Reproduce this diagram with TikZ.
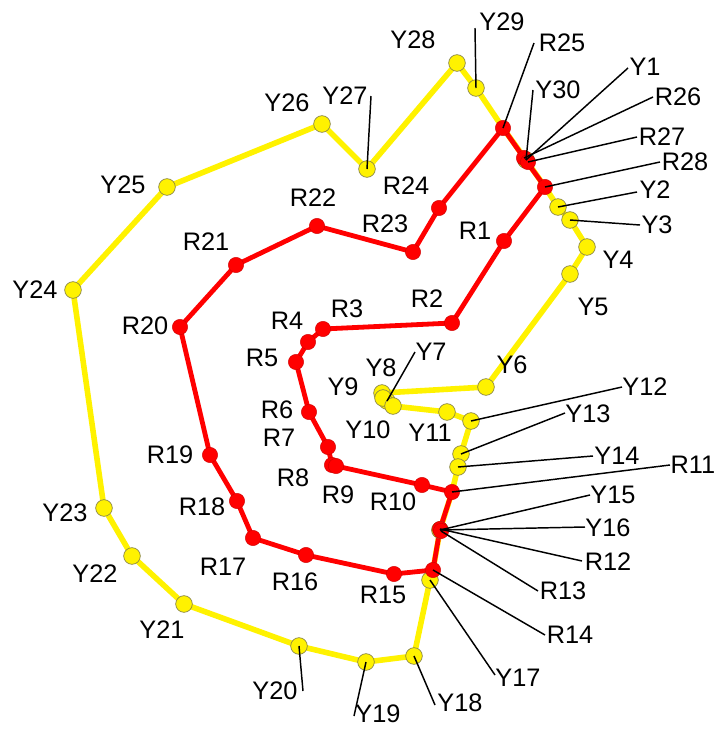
\documentclass[tikz,border=0pt]{standalone}
\usepackage{fontspec}
\setmainfont{Liberation Sans}
\begin{document}
\begin{tikzpicture}[x=0.75pt,y=-0.75pt,
 ypath/.style={draw=yellow, line width=4.2pt, line join=round},
 rpath/.style={draw=red, line width=3.6pt, line join=round},
 ydot/.style={circle, fill=yellow, draw=black!55!yellow, line width=0.5pt, minimum size=12.5pt, inner sep=0pt},
 rdot/.style={circle, fill=red, draw=red!80!black, line width=0.3pt, minimum size=11.5pt, inner sep=0pt},
 lead/.style={draw=black, line width=1.1pt},
 lab/.style={inner sep=0pt, font=\fontsize{19}{21}\selectfont}]
\useasboundingbox (0,0) rectangle (716,729);
% yellow points
\coordinate (pY1) at (526,160);
\coordinate (pY2) at (558,207);
\coordinate (pY3) at (570,220);
\coordinate (pY4) at (587,247);
\coordinate (pY5) at (570,274);
\coordinate (pY6) at (486,387);
\coordinate (pY7) at (387,401);
\coordinate (pY8) at (382,393);
\coordinate (pY9) at (383,398);
\coordinate (pY10) at (393,406);
\coordinate (pY11) at (447,412);
\coordinate (pY12) at (471,421);
\coordinate (pY13) at (461,454);
\coordinate (pY14) at (458,467);
\coordinate (pY15) at (440,530);
\coordinate (pY16) at (440,530);
\coordinate (pY17) at (430,580);
\coordinate (pY18) at (414,656);
\coordinate (pY19) at (366,662);
\coordinate (pY20) at (299,646);
\coordinate (pY21) at (184,604);
\coordinate (pY22) at (132,556);
\coordinate (pY23) at (104,508);
\coordinate (pY24) at (73,290);
\coordinate (pY25) at (167,187);
\coordinate (pY26) at (322,124);
\coordinate (pY27) at (367,169);
\coordinate (pY28) at (457,63);
\coordinate (pY29) at (476,88);
\coordinate (pY30) at (526,160);
% red points
\coordinate (pR1) at (504,241);
\coordinate (pR2) at (452,323);
\coordinate (pR3) at (323,329);
\coordinate (pR4) at (308,342);
\coordinate (pR5) at (296,362);
\coordinate (pR6) at (309,412);
\coordinate (pR7) at (328,447);
\coordinate (pR8) at (332,465);
\coordinate (pR9) at (336,466);
\coordinate (pR10) at (422,485);
\coordinate (pR11) at (452,492);
\coordinate (pR12) at (440,529);
\coordinate (pR13) at (441,531);
\coordinate (pR14) at (433,570);
\coordinate (pR15) at (394,574);
\coordinate (pR16) at (306,555);
\coordinate (pR17) at (253,538);
\coordinate (pR18) at (237,501);
\coordinate (pR19) at (210,455);
\coordinate (pR20) at (180,327);
\coordinate (pR21) at (236,265);
\coordinate (pR22) at (317,226);
\coordinate (pR23) at (413,252);
\coordinate (pR24) at (439,208);
\coordinate (pR25) at (503,128);
\coordinate (pR26) at (524,158);
\coordinate (pR27) at (528,162);
\coordinate (pR28) at (545,187);
% routes
\draw[ypath] (pY28) -- (pY29) -- (pR25) -- (pY30) -- (pR28) -- (pY2) -- (pY3) -- (pY4) -- (pY5) -- (pY6) -- (pY8) -- (pY9) -- (pY7) -- (pY10) -- (pY11) -- (pY12) -- (pY13) -- (pY14) -- (pR11) -- (pY15) -- (pR14) -- (pY17) -- (pY18) -- (pY19) -- (pY20) -- (pY21) -- (pY22) -- (pY23) -- (pY24) -- (pY25) -- (pY26) -- (pY27) -- cycle;
\draw[rpath] (pR1) -- (pR2) -- (pR3) -- (pR4) -- (pR5) -- (pR6) -- (pR7) -- (pR8) -- (pR9) -- (pR10) -- (pR11) -- (pR12) -- (pR14) -- (pR15) -- (pR16) -- (pR17) -- (pR18) -- (pR19) -- (pR20) -- (pR21) -- (pR22) -- (pR23) -- (pR24) -- (pR25) -- (pR26) -- (pR28) -- cycle;
% yellow stops
\foreach \i in {1,...,30} {\node[ydot] (Y\i) at (pY\i) {};}
% red stops
\foreach \i in {1,...,28} {\node[rdot] (R\i) at (pR\i) {};}
% leader end points
\coordinate (eY29) at (475,28);
\coordinate (eR25) at (534,43);
\coordinate (eY30) at (533,90);
\coordinate (eY1) at (628,68);
\coordinate (eR26) at (653,97);
\coordinate (eR27) at (637,137);
\coordinate (eR28) at (660,162);
\coordinate (eY2) at (637,192);
\coordinate (eY3) at (640,225);
\coordinate (eY12) at (622,387);
\coordinate (eY13) at (565,413);
\coordinate (eY14) at (593,456);
\coordinate (eR11) at (670,465);
\coordinate (eY15) at (590,495);
\coordinate (eY16) at (585,527);
\coordinate (eR12) at (582,561);
\coordinate (eR13) at (538,591);
\coordinate (eR14) at (545,635);
\coordinate (eY17) at (495,675);
\coordinate (eY18) at (435,705);
\coordinate (eY19) at (354,716);
\coordinate (eY20) at (303,691);
\coordinate (eY7) at (415,352);
\coordinate (eY27) at (371,96);
% leaders
\foreach \n in {Y29,R25,Y30,Y1,R26,R27,R28,Y2,Y3,Y12,Y13,Y14,R11,Y15,Y16,R12,R13,R14,Y17,Y18,Y19,Y20,Y7,Y27}
  {\draw[lead] (\n.center) -- (e\n);}
% labels
\node[lab] (lY1) at (645,67) {Y1};
\node[lab] (lY2) at (655,190) {Y2};
\node[lab] (lY3) at (657,225) {Y3};
\node[lab] (lY4) at (618,260) {Y4};
\node[lab] (lY5) at (593,307) {Y5};
\node[lab] (lY6) at (512,365) {Y6};
\node[lab] (lY7) at (431,352) {Y7};
\node[lab] (lY8) at (381,368) {Y8};
\node[lab] (lY9) at (343,387) {Y9};
\node[lab] (lY10) at (368,430) {Y10};
\node[lab] (lY11) at (430,433) {Y11};
\node[lab] (lY12) at (645,387) {Y12};
\node[lab] (lY13) at (588,414) {Y13};
\node[lab] (lY14) at (617,456) {Y14};
\node[lab] (lY15) at (613,495) {Y15};
\node[lab] (lY16) at (608,528) {Y16};
\node[lab] (lY17) at (518,678) {Y17};
\node[lab] (lY18) at (460,703) {Y18};
\node[lab] (lY19) at (378,714) {Y19};
\node[lab] (lY20) at (275,691) {Y20};
\node[lab] (lY21) at (162,630) {Y21};
\node[lab] (lY22) at (95,574) {Y22};
\node[lab] (lY23) at (65,513) {Y23};
\node[lab] (lY24) at (35,290) {Y24};
\node[lab] (lY25) at (123,185) {Y25};
\node[lab] (lY26) at (287,103) {Y26};
\node[lab] (lY27) at (345,96) {Y27};
\node[lab] (lY28) at (413,40) {Y28};
\node[lab] (lY29) at (502,22) {Y29};
\node[lab] (lY30) at (558,90) {Y30};
\node[lab] (lR1) at (475,231) {R1};
\node[lab] (lR2) at (427,299) {R2};
\node[lab] (lR3) at (347,309) {R3};
\node[lab] (lR4) at (287,321) {R4};
\node[lab] (lR5) at (262,358) {R5};
\node[lab] (lR6) at (277,410) {R6};
\node[lab] (lR7) at (279,438) {R7};
\node[lab] (lR8) at (293,478) {R8};
\node[lab] (lR9) at (338,495) {R9};
\node[lab] (lR10) at (393,502) {R10};
\node[lab] (lR11) at (693,465) {R11};
\node[lab] (lR12) at (608,562) {R12};
\node[lab] (lR13) at (563,591) {R13};
\node[lab] (lR14) at (570,635) {R14};
\node[lab] (lR15) at (383,595) {R15};
\node[lab] (lR16) at (295,582) {R16};
\node[lab] (lR17) at (223,567) {R17};
\node[lab] (lR18) at (202,507) {R18};
\node[lab] (lR19) at (170,455) {R19};
\node[lab] (lR20) at (145,326) {R20};
\node[lab] (lR21) at (206,242) {R21};
\node[lab] (lR22) at (313,198) {R22};
\node[lab] (lR23) at (385,224) {R23};
\node[lab] (lR24) at (406,186) {R24};
\node[lab] (lR25) at (562,43) {R25};
\node[lab] (lR26) at (678,97) {R26};
\node[lab] (lR27) at (662,137) {R27};
\node[lab] (lR28) at (685,162) {R28};
\end{tikzpicture}
\end{document}
